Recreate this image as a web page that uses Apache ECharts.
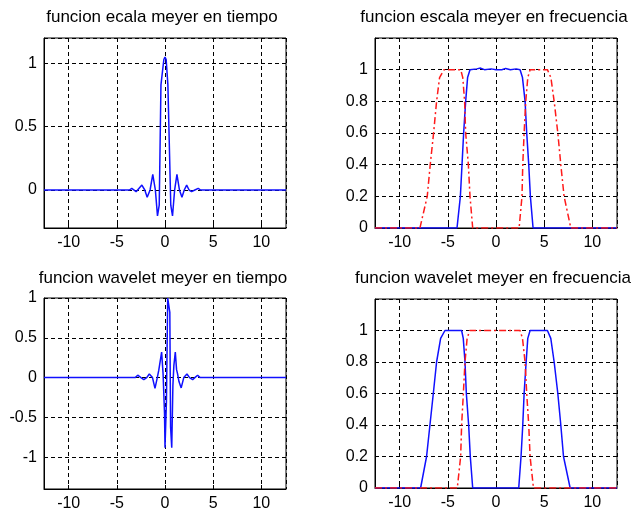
<!DOCTYPE html>
<html>
<head>
<meta charset="utf-8">
<script src="https://cdn.jsdelivr.net/npm/echarts@6/dist/echarts.min.js"></script>
<style>html,body{margin:0;padding:0;background:#fff;}#c{width:632px;height:514px;}</style>
</head>
<body>
<div id="c"></div>
<script>
// ---- data ----
const titles = [
  'funcion ecala meyer en tiempo',
  'funcion escala meyer en frecuencia',
  'funcion wavelet meyer en tiempo',
  'funcion wavelet meyer en frecuencia'
];
const xRange = [-12.566, 12.566];

// scaling function, time
const phiTimeX = [-12.566, -3.7, -3.45, -3.0, -2.4, -2.1, -1.85, -1.55, -1.27, -1.0, -0.78, -0.6, -0.42, -0.3, -0.12, 0, 0.12, 0.3, 0.42, 0.6, 0.78, 1.0, 1.24, 1.5, 1.76, 2.0, 2.25, 2.5, 2.76, 3.1, 3.45, 3.7, 12.566];
const phiTimeY = [0, 0, 0.013, -0.013, 0.039, 0.0, -0.057, 0.0, 0.123, 0.0, -0.205, -0.12, 0.83, 0.83, 1.03, 1.05, 1.03, 0.83, 0.83, -0.12, -0.205, 0.0, 0.123, 0.0, -0.057, 0.0, 0.039, 0.0, -0.013, 0.0, 0.013, 0, 0];

// wavelet, time
const psiTimeX = [-12.566, -3.1, -2.83, -2.5, -2.2, -1.9, -1.63, -1.3, -1.04, -0.8, -0.65, -0.5, -0.35, -0.2, -0.05, 0.0, 0.15, 0.28, 0.42, 0.5, 0.58, 0.7, 0.82, 0.92, 1.07, 1.2, 1.3, 1.45, 1.68, 1.95, 2.28, 2.55, 2.87, 3.1, 3.39, 3.65, 12.566];
const psiTimeY = [0, 0, 0.03, 0.0, -0.025, 0.0, 0.045, 0.0, -0.135, 0.0, 0.09, 0.1, 0.32, 0.05, -0.45, -0.88, -0.3, 1.0, 1.0, 0.82, -0.62, -0.88, -0.1, 0.15, 0.32, 0.1, 0.05, -0.05, -0.13, 0.0, 0.045, 0.0, -0.025, 0.0, 0.03, 0, 0];

// scaling function, frequency (top-right blue)
const phiFreqX = [-12.566, -4.05, -3.7, -3.53, -3.36, -3.15, -2.95, -2.7, -2.0, -1.6, -1.2, -0.5, 0, 0.6, 1.0, 1.5, 2.1, 2.5, 2.75, 3.02, 3.19, 3.4, 3.57, 3.85, 12.566];
const phiFreqY = [0, 0, 0.2, 0.4, 0.6, 0.8, 0.95, 1.0, 1.005, 1.01, 1.0, 1.005, 1.0, 1.0, 1.008, 1.0, 1.005, 1.0, 0.95, 0.8, 0.6, 0.4, 0.2, 0, 0];

// wavelet, frequency (top-right red)
const psiFreqX = [-12.566, -7.9, -7.14, -6.83, -6.48, -6.17, -5.86, -5.4, -3.67, -3.45, -3.26, -3.15, -2.87, -2.7, -2.42, 2.4, 2.7, 2.78, 2.92, 3.09, 3.3, 3.54, 5.34, 5.7, 6.04, 6.42, 6.73, 7.07, 7.77, 12.566];
const psiFreqY = [0, 0, 0.2, 0.4, 0.6, 0.8, 0.95, 1, 1, 0.95, 0.8, 0.6, 0.4, 0.2, 0, 0, 0.2, 0.4, 0.6, 0.8, 0.95, 1, 1, 0.95, 0.8, 0.6, 0.4, 0.2, 0, 0];

// wavelet, frequency (bottom-right blue)
const psiFreq2X = [-12.566, -7.83, -7.21, -6.86, -6.51, -6.17, -5.75, -5.3, -3.57, -3.4, -3.22, -3.08, -2.84, -2.67, -2.42, 2.36, 2.6, 2.78, 2.92, 3.13, 3.3, 3.54, 5.34, 5.69, 6.04, 6.42, 6.73, 7.01, 7.7, 12.566];
const psiFreq2Y = [0, 0, 0.2, 0.4, 0.6, 0.8, 0.95, 1, 1, 0.95, 0.8, 0.6, 0.4, 0.2, 0, 0, 0.2, 0.4, 0.6, 0.8, 0.95, 1, 1, 0.95, 0.8, 0.6, 0.4, 0.2, 0, 0];

// scaling function, frequency (bottom-right red)
const phiFreq2X = [-12.566, -4.02, -3.67, -3.57, -3.39, -3.22, -3.0, -2.73, 2.5, 2.75, 3.02, 3.19, 3.4, 3.54, 3.89, 12.566];
const phiFreq2Y = [0, 0, 0.2, 0.4, 0.6, 0.8, 0.95, 1, 1, 0.95, 0.8, 0.6, 0.4, 0.2, 0, 0];

// y ranges per panel
const yRanges = [[-0.3, 1.2], [0, 1.2], [-1.4, 1], [0, 1.2]];
const ySplits = [3, 6, 5, 6];

// ---- build ----
function pairs(xs, ys) { return xs.map((x, i) => [x, ys[i]]); }
const FONT = 'Liberation Sans';
const grids = [
  {left: 44, top: 38, width: 242, height: 190},
  {left: 375, top: 38, width: 242, height: 190},
  {left: 44, top: 298, width: 242, height: 191},
  {left: 375, top: 299, width: 242, height: 189}
];
const titlePos = [[162, 9], [494, 9], [163, 270], [493, 270]];

const gridLine = {show: true, lineStyle: {color: '#000', type: [4, 3], width: 1}};
const xAxes = grids.map((g, i) => ({
  type: 'value', gridIndex: i, min: xRange[0], max: xRange[1], splitNumber: 5,
  axisLine: {show: true, onZero: false, lineStyle: {color: '#000'}},
  axisTick: {show: true, inside: true, length: 4, lineStyle: {color: '#000'}},
  axisLabel: {color: '#000', fontSize: 16, fontFamily: FONT, margin: 7, showMinLabel: false, showMaxLabel: false},
  splitLine: gridLine
}));
const yAxes = grids.map((g, i) => ({
  type: 'value', gridIndex: i, min: yRanges[i][0], max: yRanges[i][1], splitNumber: ySplits[i],
  axisLine: {show: true, onZero: false, lineStyle: {color: '#000'}},
  axisTick: {show: true, inside: true, length: 4, lineStyle: {color: '#000'}},
  axisLabel: {color: '#000', fontSize: 16, fontFamily: FONT, margin: 7,
    showMinLabel: i === 1 || i === 3, showMaxLabel: i === 2},
  splitLine: gridLine
}));

const blue = '#1010ff', red = '#ff1a1a';
function line(idx, data, color, dash) {
  return {
    type: 'line', xAxisIndex: idx, yAxisIndex: idx, data: data, showSymbol: false, symbol: 'none',
    animation: false, silent: true, clip: true,
    lineStyle: {color: color, width: 1.5, type: dash || 'solid'}
  };
}

const option = {
  backgroundColor: '#fff',
  animation: false,
  title: titles.map((t, i) => ({
    text: t, left: titlePos[i][0], top: titlePos[i][1], textAlign: 'center', padding: 0,
    textStyle: {fontSize: 17, fontWeight: 'normal', color: '#000', fontFamily: FONT}
  })),
  grid: grids.map(g => Object.assign({show: true, borderColor: '#000', borderWidth: 1, backgroundColor: '#fff', containLabel: false}, g)),
  xAxis: xAxes,
  yAxis: yAxes,
  series: [
    line(0, pairs(phiTimeX, phiTimeY), blue),
    line(1, pairs(phiFreqX, phiFreqY), blue),
    line(1, pairs(psiFreqX, psiFreqY), red, [7, 3, 2, 3]),
    line(2, pairs(psiTimeX, psiTimeY), blue),
    line(3, pairs(psiFreq2X, psiFreq2Y), blue),
    line(3, pairs(phiFreq2X, phiFreq2Y), red, [7, 3, 2, 3])
  ]
};
const chart = echarts.init(document.getElementById('c'), null, {renderer: 'canvas'});
chart.setOption(option);
</script>
</body>
</html>
